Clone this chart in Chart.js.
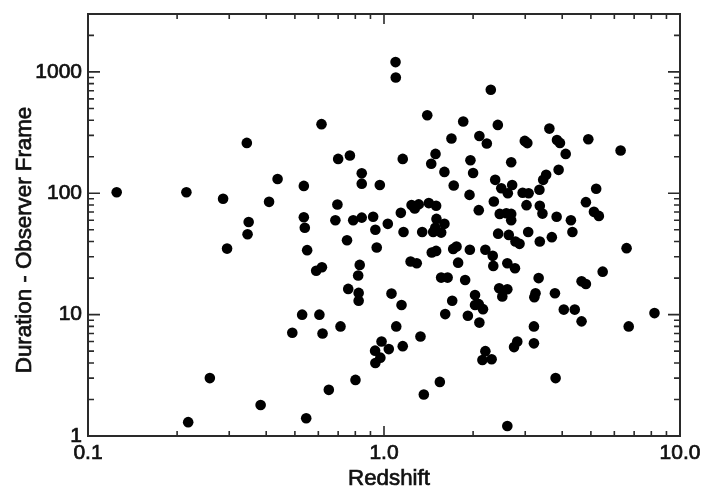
<!DOCTYPE html>
<html>
<head>
<meta charset="utf-8">
<script src="https://cdn.jsdelivr.net/npm/chart.js@4.4.0/dist/chart.umd.min.js"></script>
<style>
	html, body { margin: 0; padding: 0; background: #fff; }
</style>
</head>
<body>
<canvas id="chart" width="701" height="494"></canvas>
<script>
// redshift of each burst and its observed duration
var redshift = [0.125, 0.215, 0.286, 0.344, 0.437, 0.409, 0.349, 0.346, 0.295, 0.258,
	0.218, 0.383, 0.49, 0.529, 0.605, 0.62, 0.713, 0.651, 0.546, 0.55,
	0.59, 0.617, 0.757, 0.536, 0.536, 0.54, 0.615, 0.70, 0.767, 0.696,
	0.685, 0.75, 0.841, 0.841, 0.968, 1.157, 1.40, 0.787, 0.841, 0.919,
	1.03, 0.935, 0.945, 0.828, 1.14, 1.164, 1.239, 1.27, 1.31, 1.346,
	1.23, 1.29, 0.818, 0.821, 0.821, 1.06, 1.146, 1.10, 0.981, 0.933,
	0.972, 0.935, 1.038, 1.157, 1.328, 0.801, 1.363, 1.094, 1.096, 2.295,
	1.852, 2.424, 1.69, 2.10, 2.225, 2.99, 3.05, 3.62, 3.84, 3.93,
	4.11, 1.493, 1.444, 1.60, 1.959, 2.0, 2.69, 1.72, 1.945, 2.375,
	2.49, 2.62, 2.71, 2.94, 3.08, 3.35, 3.45, 3.53, 3.89, 1.417,
	1.50, 1.504, 1.60, 1.466, 1.49, 1.56, 2.09, 2.35, 2.46, 2.59,
	2.69, 2.69, 3.03, 3.36, 3.43, 3.83, 2.43, 2.64, 2.78, 2.87,
	3.07, 3.36, 3.69, 1.45, 1.50, 1.713, 1.758, 1.95, 2.20, 2.33,
	1.78, 2.61, 2.34, 2.77, 1.56, 1.64, 1.88, 3.33, 2.45, 2.61,
	2.51, 2.03, 1.70, 2.03, 2.09, 2.16, 1.61, 1.92, 2.10, 3.25,
	3.22, 3.78, 3.21, 3.21, 2.82, 2.75, 2.20, 2.15, 2.31, 1.544,
	3.80, 2.61, 4.90, 6.30, 5.21, 4.81, 5.12, 5.32, 4.28, 4.33,
	6.6, 4.05, 4.41, 4.65, 4.65, 4.81, 5.48, 6.71, 8.20];

var duration = [102, 102, 90, 260, 131, 85, 58, 46, 35, 3.0,
	1.3, 1.8, 7.1, 10, 10, 7.0, 8.0, 2.4, 1.4, 34,
	23, 24.6, 16.3, 115, 63.5, 52, 371, 192, 205, 80.7,
	60, 41, 146, 120, 117, 192, 440, 60, 63, 64,
	56, 50, 35.7, 25.7, 69, 48, 80, 75, 81, 48,
	27.4, 26.5, 21, 15.1, 13, 14.9, 12, 8.0, 6.0, 5.05,
	4.42, 4.0, 5.2, 5.5, 6.6, 2.9, 2.2, 1205, 899, 712,
	390, 366, 283, 296, 257, 270, 259, 341, 275, 260,
	211, 211, 175, 150, 187, 147, 180, 116, 97, 129,
	110, 100, 117, 101, 100, 107, 129, 142, 156, 83,
	79, 61.5, 56, 48, 52, 47.4, 72.6, 85.5, 67.6, 68.4,
	67.6, 60, 79.8, 79, 68, 64, 46.5, 45.4, 40, 38.3,
	48, 40, 43.5, 32.5, 33.5, 34.8, 36.4, 34.2, 34.2, 30.5,
	26.8, 26.5, 25.2, 24.1, 20.2, 20.2, 19.3, 20, 16.5, 16.2,
	14.1, 14.5, 13.0, 12.0, 12.2, 11.1, 10.1, 9.8, 8.6, 15,
	13.9, 15, 8.0, 5.8, 6.0, 5.4, 5.0, 4.23, 4.29, 2.79,
	3.0, 1.21, 279, 225, 109, 84.5, 70.3, 65.1, 60, 48,
	35.3, 11.0, 11.0, 8.8, 18.8, 17.9, 22.6, 8.0, 10.3];

var xTickValues = [0.1, 1, 10];
var xTickLabels = ['0.1', '1.0', '10.0'];
var yTickValues = [1, 10, 100, 1000];
var yTickLabels = ['1', '10', '100', '1000'];
var xTitle = 'Redshift';
var yTitle = 'Duration - Observer Frame';

var fontFamily = "'Liberation Sans', Arial, Helvetica, sans-serif";
var textColor = '#111';

var points = [];
for (var i = 0; i < redshift.length; i++) {
	points.push({x: redshift[i], y: duration[i]});
}

function labelFor(v, values, labels) {
	for (var k = 0; k < values.length; k++) {
		if (Math.abs(v - values[k]) < values[k] * 1e-6) return labels[k];
	}
	return '';
}

// log tick positions (1..9 per decade) between lo and hi
function logTicks(lo, hi) {
	var out = [];
	for (var d = lo; d < hi * 1.0001; d *= 10) {
		for (var m = 1; m <= 9; m++) {
			var v = m * d;
			if (v > hi * 1.0001) break;
			out.push({v: v, major: m == 1});
		}
	}
	return out;
}

function heavyText(ctx, text, x, y) {
	ctx.fillText(text, x, y);
	ctx.strokeText(text, x, y);
}

// frame with inward ticks on all four sides, plus the axis titles
var frameTicks = {
	id: 'frameTicks',
	beforeDatasetsDraw: function(chart) {
		var ctx = chart.ctx, a = chart.chartArea;
		var xs = chart.scales.x, ys = chart.scales.y;
		ctx.save();
		ctx.strokeStyle = '#2a2a2a';
		ctx.lineWidth = 1.6;
		ctx.beginPath();
		logTicks(0.1, 10).forEach(function(t) {
			var px = xs.getPixelForValue(t.v);
			var len = t.major ? 10 : 5;
			ctx.moveTo(px, a.bottom); ctx.lineTo(px, a.bottom - len);
			ctx.moveTo(px, a.top); ctx.lineTo(px, a.top + len);
		});
		logTicks(1, 3000).forEach(function(t) {
			var py = ys.getPixelForValue(t.v);
			var len = t.major ? 12 : 6;
			ctx.moveTo(a.left, py); ctx.lineTo(a.left + len, py);
			ctx.moveTo(a.right, py); ctx.lineTo(a.right - len, py);
		});
		ctx.stroke();
		ctx.lineWidth = 2;
		ctx.strokeRect(a.left, a.top, a.right - a.left, a.bottom - a.top);

		ctx.fillStyle = textColor;
		ctx.strokeStyle = textColor;
		ctx.lineWidth = 0.7;
		ctx.font = '22.3px ' + fontFamily;
		ctx.textAlign = 'center';
		ctx.textBaseline = 'middle';
		heavyText(ctx, xTitle, (a.left + a.right) / 2 + 5, 479);
		ctx.translate(25, (a.top + a.bottom) / 2 + 15);
		ctx.rotate(-Math.PI / 2);
		heavyText(ctx, yTitle, 0, 0);
		ctx.restore();
	}
};

new Chart(document.getElementById('chart'), {
	type: 'scatter',
	data: {
		datasets: [{
			data: points,
			backgroundColor: '#000',
			borderWidth: 0,
			pointRadius: 5.3,
			pointHoverRadius: 5.3
		}]
	},
	options: {
		responsive: false,
		animation: false,
		events: [],
		layout: { padding: { top: 14, right: 21, left: 0, bottom: 0 } },
		plugins: {
			legend: { display: false },
			tooltip: { enabled: false }
		},
		scales: {
			x: {
				type: 'logarithmic',
				min: 0.1,
				max: 10,
				grid: { display: false, drawTicks: false },
				border: { display: false },
				ticks: {
					autoSkip: false,
					maxRotation: 0,
					padding: 5,
					color: textColor,
					textStrokeColor: textColor,
					textStrokeWidth: 0.7,
					font: { family: fontFamily, size: 21 },
					callback: function(v) { return labelFor(v, xTickValues, xTickLabels); }
				},
				afterFit: function(s) { s.height = 58; s.paddingLeft = 0; s.paddingRight = 0; }
			},
			y: {
				type: 'logarithmic',
				min: 1,
				max: 3000,
				grid: { display: false, drawTicks: false },
				border: { display: false },
				ticks: {
					autoSkip: false,
					padding: 6,
					color: textColor,
					textStrokeColor: textColor,
					textStrokeWidth: 0.7,
					font: { family: fontFamily, size: 21 },
					callback: function(v) { return labelFor(v, yTickValues, yTickLabels); }
				},
				afterFit: function(s) { s.width = 88; s.paddingTop = 0; s.paddingBottom = 0; }
			}
		}
	},
	plugins: [frameTicks]
});
</script>
</body>
</html>
